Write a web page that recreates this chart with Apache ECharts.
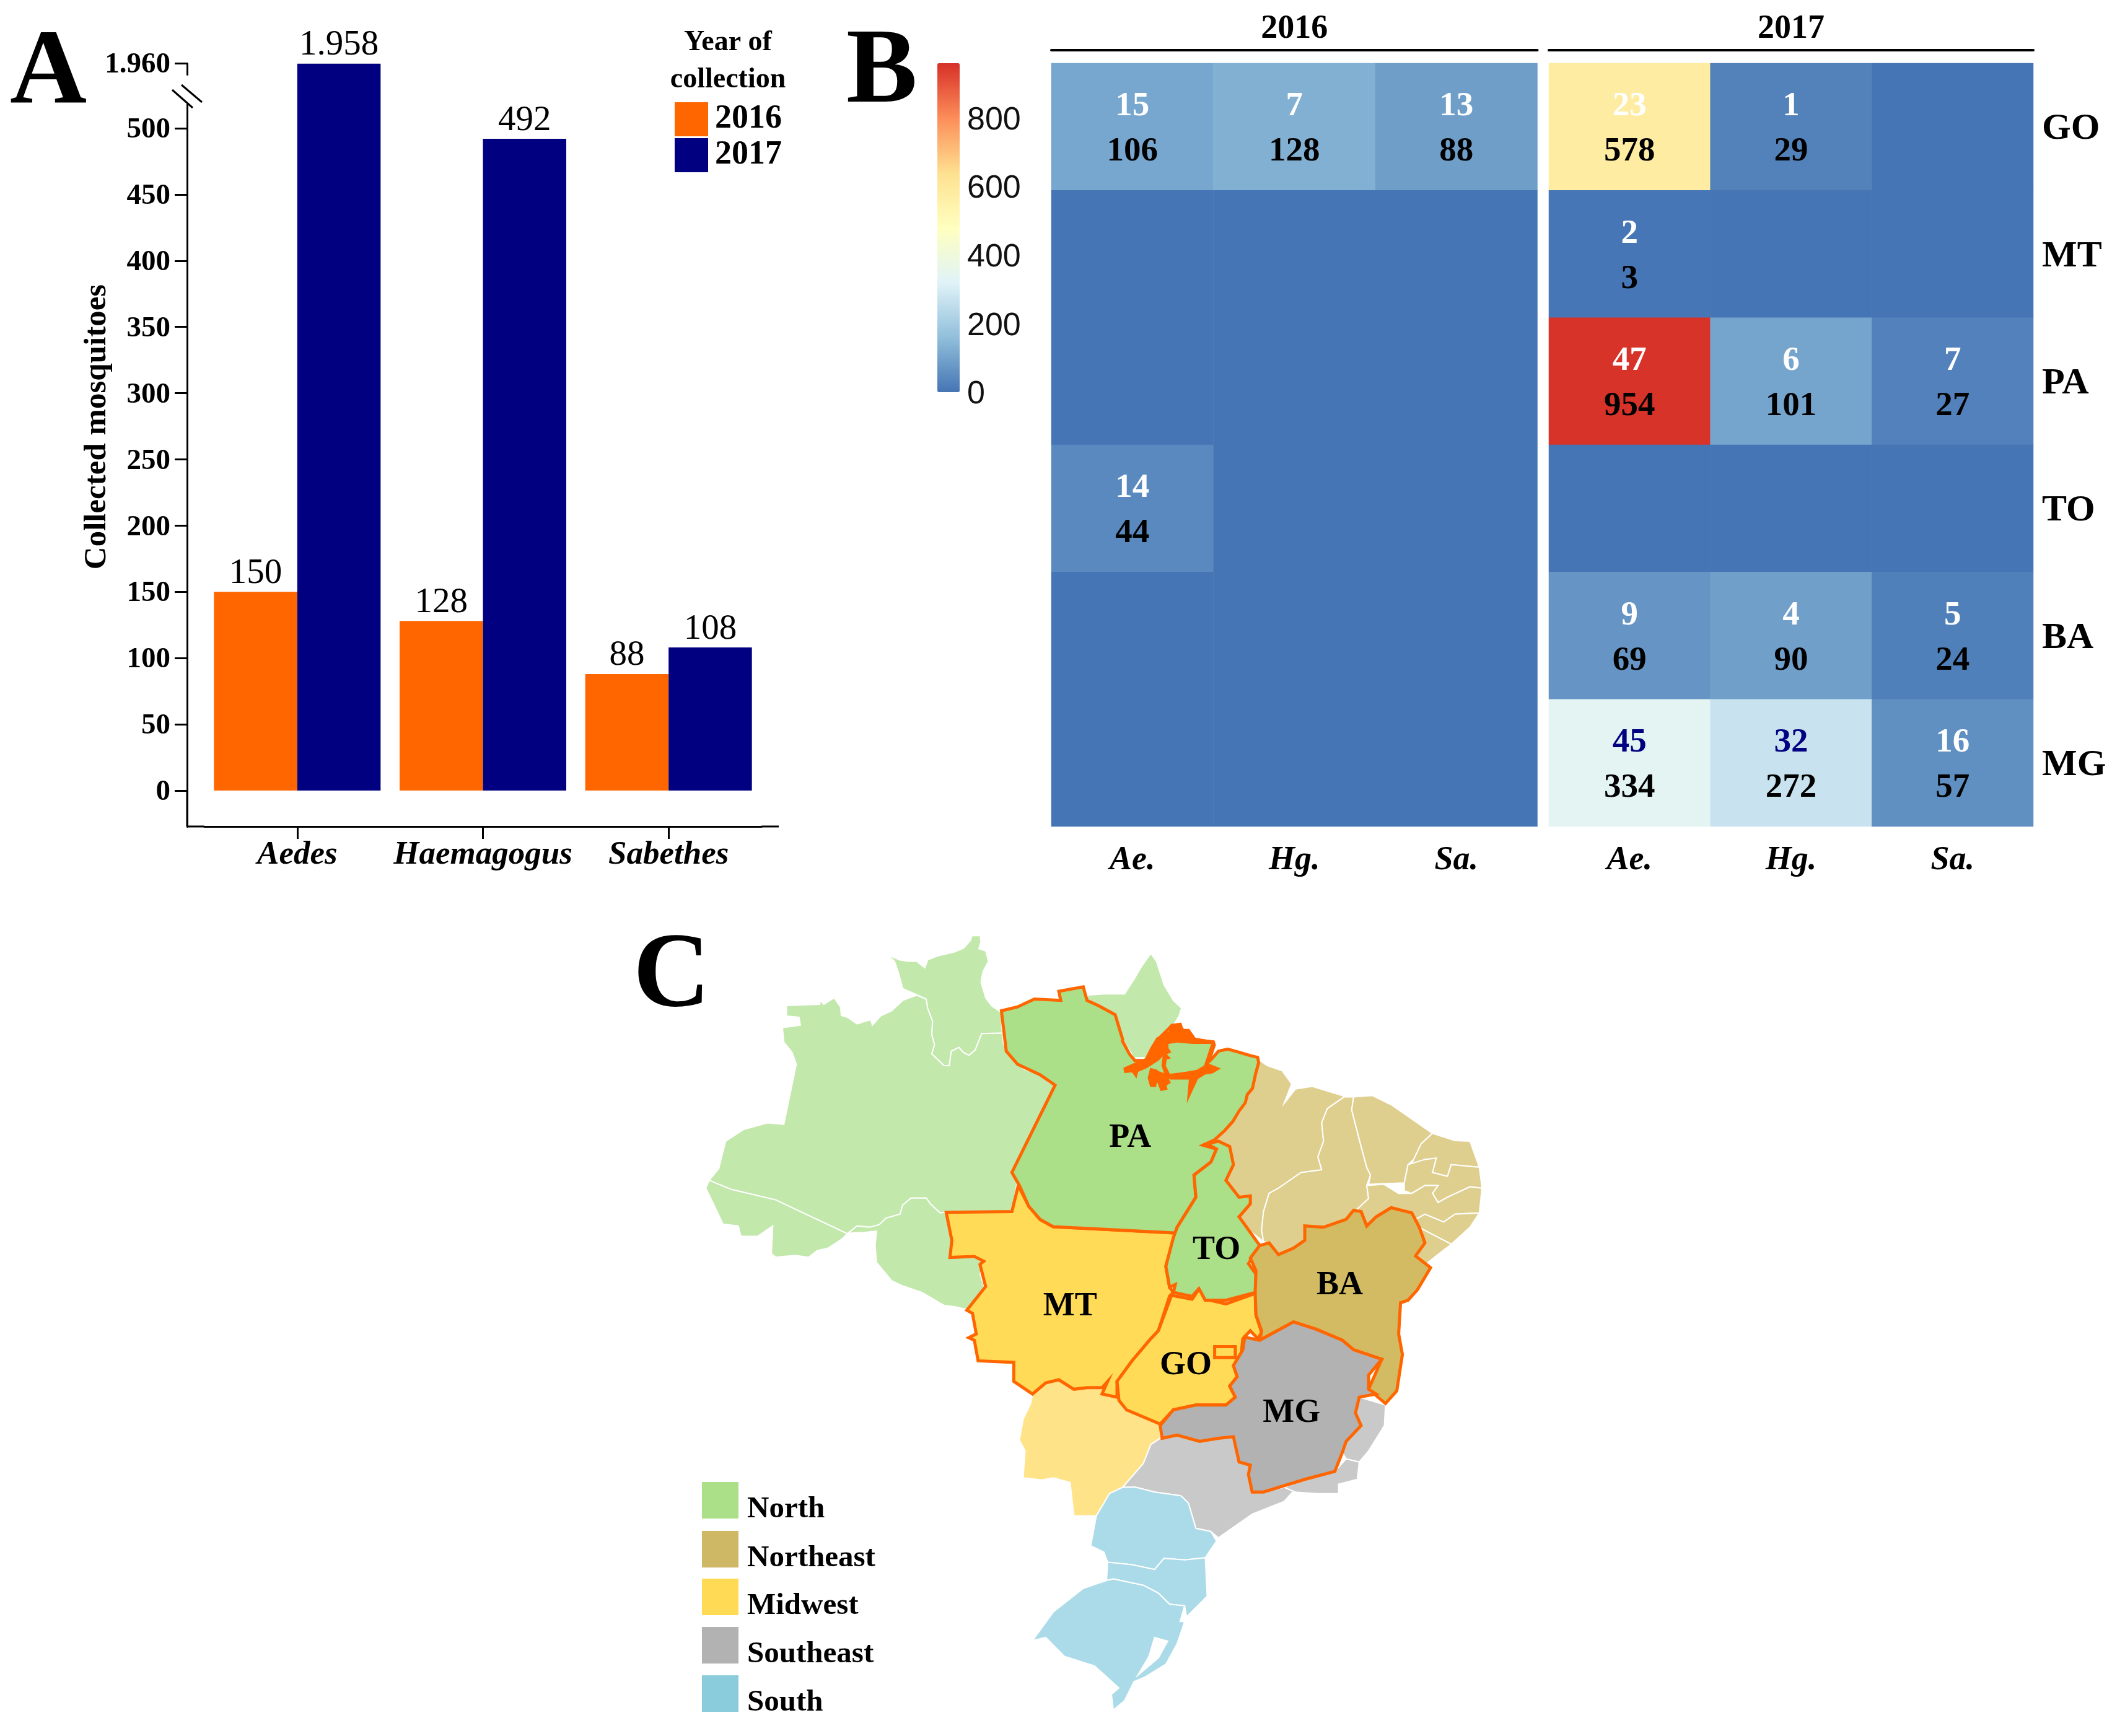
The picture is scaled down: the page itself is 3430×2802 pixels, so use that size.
<!DOCTYPE html>
<html><head><meta charset="utf-8">
<style>html,body{margin:0;padding:0;background:#fff}#c{width:3430px;height:2802px}</style>
<script src="https://cdn.jsdelivr.net/npm/echarts@6/dist/echarts.min.js"></script>
</head><body><div id="c"></div>
<script>
// ---------- Panel A data
const genera = ['Aedes','Haemagogus','Sabethes'];
const collected2016 = [150,128,88];
const collected2017 = [1958,492,108];
const yTicks = [0,50,100,150,200,250,300,350,400,450,500,1960];
// ---------- Panel B data
const states = ['GO','MT','PA','TO','BA','MG'];
const genusShort = ['Ae.','Hg.','Sa.'];
const mosq2016 = [[106,128,88],[0,0,0],[0,0,0],[44,0,0],[0,0,0],[0,0,0]];
const pools2016 = [[15,7,13],[0,0,0],[0,0,0],[14,0,0],[0,0,0],[0,0,0]];
const mosq2017 = [[578,29,0],[3,0,0],[954,101,27],[0,0,0],[69,90,24],[334,272,57]];
const pools2017 = [[23,1,0],[2,0,0],[47,6,7],[0,0,0],[9,4,5],[45,32,16]];
const navyPools = [45,32];
const heatColors = ['#4575b4','#91bfdb','#e0f3f8','#ffffbf','#fee090','#fc8d59','#d73027'];
const colorbarTicks = [0,200,400,600,800];
// ---------- Panel C legend
const regionNames = ['North','Northeast','Midwest','Southeast','South'];
const regionSwatch = ['#ACE088','#CFB865','#FFDB55','#B2B2B2','#8BCCDC'];

const SERIF = '"Liberation Serif"';
const SANS = '"Liberation Sans"';

// ---------- Outline tracing helpers (outline pixels -> map units)
const z3 = p => p.map(([x,y]) => [1100+x/2.24, -(1480+y/2.376)]);
const z4 = p => p.map(([x,y]) => [1500+x/1.65, -(1480+y/2.376)]);
const z5 = p => p.map(([x,y]) => [1500+x/1.65, -(2000+y/1.96)]);
const zd = p => p.map(([x,y]) => [1800+x/3, -(1630+y/3)]);

const shapes = {
 AM: z3([[380,340],[500,335],[500,320],[515,335],[552,310],[575,345],[578,378],[600,385],[635,410],[670,398],[685,395],[690,415],[720,380],[760,360],[800,320],[850,300],[885,315],[890,350],[908,400],[905,450],[915,490],[905,525],[950,570],[968,570],[975,515],[1003,500],[1020,520],[1040,530],[1062,510],[1085,447],[1160,445],[1165,490],[1195,545],[1240,585],[1290,600],[1330,635],[1350,645],[1195,975],[1215,1010],[1195,1130],[955,1132],[935,1135],[900,1100],[885,1078],[830,1078],[800,1105],[790,1140],[740,1155],[715,1180],[680,1190],[635,1185],[600,1215],[340,1085],[180,1045],[100,1010],[135,965],[145,920],[160,860],[225,815],[310,790],[370,795],[415,565],[400,520],[370,480],[365,425],[430,415],[425,385],[380,380]]),
 RR: z3([[745,145],[790,165],[820,170],[850,170],[880,195],[890,165],[925,150],[985,135],[1020,120],[1045,90],[1050,72],[1080,72],[1083,95],[1075,122],[1100,130],[1110,170],[1090,210],[1083,250],[1100,310],[1120,340],[1155,365],[1160,445],[1085,447],[1062,510],[1040,530],[1020,520],[1003,500],[975,515],[968,570],[950,570],[905,525],[915,490],[905,450],[908,400],[890,350],[885,315],[850,298],[800,275],[785,215],[770,170]]),
 AC: z3([[100,1010],[180,1045],[340,1085],[600,1215],[580,1235],[530,1270],[490,1280],[460,1305],[410,1298],[340,1305],[325,1290],[330,1185],[275,1225],[215,1225],[205,1185],[150,1178],[120,1110],[88,1040]]),
 RO: z3([[600,1215],[635,1185],[680,1190],[715,1180],[740,1155],[790,1140],[800,1105],[830,1078],[885,1078],[900,1100],[935,1135],[955,1132],[975,1150],[975,1300],[1060,1305],[1090,1325],[1080,1370],[1095,1420],[1060,1470],[1030,1505],[990,1495],[950,1490],[870,1440],[800,1415],[760,1395],[705,1325],[700,1260],[705,1205],[660,1210],[620,1212]]),
 AP: z4([[590,140],[605,170],[625,260],[650,320],[672,350],[665,380],[640,440],[580,540],[545,540],[515,470],[495,375],[450,340],[420,320],[420,300],[465,295],[520,295],[545,240],[565,190]]),
 MA: z4([[875,545],[900,570],[940,590],[965,640],[945,715],[975,660],[1020,650],[1100,685],[1105,690],[1060,735],[1045,790],[1050,860],[1035,920],[1045,970],[990,980],[930,1040],[905,1060],[890,1130],[885,1200],[890,1245],[850,1200],[825,1150],[855,1100],[855,1070],[825,1075],[790,1010],[810,950],[800,880],[770,860],[740,870],[790,820],[830,740],[850,680],[875,570]]),
 PI: z4([[1105,690],[1130,690],[1125,740],[1150,880],[1165,960],[1175,990],[1165,1030],[1170,1080],[1140,1120],[1125,1130],[1110,1160],[1050,1190],[1000,1185],[1000,1240],[970,1270],[930,1295],[905,1250],[890,1245],[885,1200],[890,1130],[905,1060],[930,1040],[990,980],[1045,970],[1035,920],[1050,860],[1045,790],[1060,735]]),
 CE: z4([[1130,690],[1180,685],[1230,720],[1300,790],[1340,830],[1310,870],[1290,930],[1275,950],[1265,1020],[1170,1025],[1175,990],[1165,960],[1150,880],[1125,740]]),
 RN: z4([[1340,830],[1400,858],[1440,860],[1465,960],[1390,950],[1380,995],[1340,980],[1350,925],[1320,930],[1280,960],[1290,930],[1310,870]]),
 PB: z4([[1465,960],[1472,1040],[1440,1035],[1380,1075],[1355,1095],[1340,1060],[1355,1030],[1320,1030],[1285,1060],[1265,1050],[1265,1020],[1275,950],[1320,930],[1350,925],[1340,980],[1380,995],[1390,950]]),
 PE: z4([[1472,1040],[1465,1135],[1400,1140],[1370,1170],[1320,1140],[1295,1160],[1260,1135],[1230,1115],[1190,1150],[1165,1185],[1150,1130],[1140,1120],[1170,1080],[1165,1030],[1210,1025],[1250,1060],[1285,1060],[1320,1030],[1355,1030],[1340,1060],[1355,1095],[1380,1075],[1440,1035]]),
 AL: z4([[1465,1135],[1440,1190],[1390,1255],[1310,1195],[1295,1160],[1320,1140],[1370,1170],[1400,1140]]),
 SE: z4([[1390,1255],[1350,1300],[1320,1335],[1295,1300],[1320,1250],[1310,1195]]),
 MS: z5([[275,490],[310,455],[345,445],[385,475],[420,470],[460,470],[475,450],[460,490],[500,500],[520,540],[615,585],[615,630],[590,650],[570,710],[515,785],[480,805],[445,875],[385,875],[375,770],[330,755],[300,762],[250,755],[255,670],[240,635],[250,570],[270,520]]),
 SP: z5([[615,630],[660,620],[720,640],[770,630],[810,625],[825,705],[855,715],[850,745],[860,800],[890,800],[945,785],[975,790],[945,830],[860,870],[800,920],[770,945],[750,925],[710,915],[690,835],[670,812],[600,800],[550,785],[515,785],[570,710],[590,650]]),
 RJ: z5([[1080,735],[1110,695],[1145,705],[1140,760],[1090,775],[1090,805],[1030,805],[975,800],[945,785],[1000,760]]),
 ES: z5([[1145,500],[1215,525],[1212,590],[1170,670],[1145,705],[1110,695],[1100,675],[1110,640],[1150,590],[1135,550]]),
 PR: z5([[515,785],[550,785],[600,800],[670,812],[690,835],[710,915],[750,925],[765,955],[745,990],[735,1008],[680,1015],[625,1010],[600,1045],[540,1030],[475,1022],[465,990],[430,970],[445,875],[480,805]]),
 SC: z5([[475,1022],[540,1030],[600,1045],[625,1010],[680,1015],[735,1008],[740,1130],[685,1195],[680,1160],[640,1155],[610,1120],[570,1095],[490,1075],[472,1080]]),
 RS: z5([[472,1080],[490,1075],[570,1095],[610,1120],[640,1155],[680,1160],[668,1210],[680,1210],[660,1280],[630,1345],[575,1385],[545,1400],[520,1460],[490,1490],[485,1440],[505,1420],[440,1350],[360,1320],[310,1260],[275,1270],[330,1180],[410,1105]]),
 lagoon: z5([[600,1260],[635,1272],[610,1325],[555,1380],[585,1320]]),
 MT: [...z4([[45,1133],[220,1130],[237,1030],[265,1110],[295,1160],[330,1188],[655,1212],[630,1340],[640,1420],[650,1440]]),
      ...z5([[640,180],[610,290],[590,315],[540,385],[500,450],[500,500],[460,490],[475,450],[460,470],[420,470],[385,475],[345,445],[310,455],[275,490],[225,450],[225,390],[130,385],[120,320],[105,312],[125,300],[115,235],[100,225],[150,150],[135,80],[145,70],[120,55],[55,58]]),
      ...z4([[60,1240]])],
 GO: z5([[645,178],[700,190],[720,155],[735,190],[790,205],[868,172],[870,240],[885,295],[875,315],[855,290],[835,315],[830,370],[810,400],[820,435],[800,465],[815,500],[790,525],[710,525],[650,540],[615,585],[525,540],[505,510],[500,450],[540,385],[590,315],[610,290]]),
 DF: z5([[760,340],[815,340],[815,375],[760,375]]),
 PA: [...z4([[192,360],[235,345],[280,315],[350,320],[345,285],[410,268],[420,320],[450,340],[495,375],[515,470]]),
      ...zd([[35,150],[70,215],[95,245],[150,245],[200,150],[270,80],[320,90],[380,140],[475,158],[445,260],[470,235],[500,200],[545,190],[600,205],[650,220],[690,230],[695,255],[680,310],[665,380],[640,410],[630,450],[600,490],[570,540],[530,585],[480,630],[425,655]]),
      ...z4([[765,890],[750,940],[705,990],[710,1075],[660,1190],[655,1212],[330,1188],[295,1160],[265,1110],[240,1030],[220,980],[335,645],[295,605],[235,565],[205,515]])],
 estuary: zd([[48,285],[100,262],[150,240],[175,190],[205,140],[265,110],[275,75],[315,70],[325,100],[355,100],[380,135],[380,145],[475,155],[480,170],[460,230],[445,265],[495,285],[470,300],[435,305],[395,330],[358,410],[365,330],[270,330],[250,320],[232,270],[240,205],[205,240],[150,275],[105,295],[100,315],[85,295],[50,298]]),
 claw: zd([[175,290],[195,295],[210,305],[240,315],[260,350],[245,360],[235,345],[245,380],[225,385],[210,345],[195,345],[192,365],[175,365],[165,330]]),
 Marajo: zd([[258,165],[300,158],[375,165],[465,165],[430,270],[395,290],[340,300],[265,310],[245,270],[250,240],[270,235],[250,215],[272,205],[258,185]]),
 TO: z4([[740,870],[770,860],[800,880],[810,950],[790,1010],[825,1075],[855,1070],[855,1100],[825,1150],[850,1200],[880,1260],[850,1330],[870,1370],[868,1440],[790,1470],[735,1470],[718,1425],[700,1455],[650,1440],[655,1410],[640,1420],[630,1340],[650,1230],[660,1190],[710,1075],[705,990],[750,940],[765,890]]),
 BA: [...z4([[880,1260],[905,1250],[930,1295],[970,1270],[1000,1240],[1000,1185],[1050,1190],[1110,1160],[1130,1125],[1150,1130],[1165,1185],[1190,1150],[1230,1115],[1285,1135],[1305,1190],[1320,1250],[1295,1300],[1335,1345],[1300,1430],[1275,1470],[1255,1480]]),
      ...z5([[1255,200],[1250,300],[1260,365],[1245,480],[1215,520],[1170,475],[1205,380],[1130,350],[1100,320],[1030,285],[970,262],[880,320],[885,290],[870,240],[868,170],[870,100],[855,60]])],
 MG: z5([[970,262],[1030,285],[1100,320],[1130,350],[1205,380],[1170,430],[1170,475],[1190,490],[1145,500],[1135,550],[1150,590],[1110,640],[1100,675],[1080,735],[1000,760],[890,800],[860,800],[850,745],[855,715],[825,705],[810,625],[770,630],[720,640],[660,620],[620,630],[615,590],[650,540],[710,525],[790,525],[815,500],[800,465],[820,435],[810,400],[835,350],[840,310],[880,320]])
};
const lightFill = {AM:'#C3E8AC',RR:'#C3E8AC',AC:'#C3E8AC',RO:'#C3E8AC',AP:'#C3E8AC',MA:'#DFCF8F',PI:'#DFCF8F',CE:'#DFCF8F',RN:'#DFCF8F',PB:'#DFCF8F',PE:'#DFCF8F',AL:'#DFCF8F',SE:'#DFCF8F',MS:'#FFE388',SP:'#C9C9C9',RJ:'#C9C9C9',ES:'#C9C9C9',PR:'#ABDBE8',SC:'#ABDBE8',RS:'#ABDBE8',lagoon:'#FFFFFF'};
const sampledFill = {MT:'#FFDB58',GO:'#FFDB58',DF:'#FFDB58',PA:'#ABDF88',estuary:'#FF6600',claw:'#FF6600',TO:'#ABDF88',BA:'#D3BB63',MG:'#B2B2B2'};
const stateCentres = {PA:z4([[535,838]])[0],TO:z4([[765,1268]])[0],MT:z5([[375,205]])[0],BA:z5([[1093,140]])[0],GO:z5([[683,392]])[0],MG:z5([[965,543]])[0]};

const geoJson = {type:'FeatureCollection',features:Object.keys(shapes).map(n=>({
  type:'Feature',properties:Object.assign({name:n},stateCentres[n]?{cp:stateCentres[n]}:{}),
  geometry:{type:'Polygon',coordinates:[[...shapes[n],shapes[n][0]]]}
}))};
echarts.registerMap('brazil',geoJson);

const mapData = Object.keys(shapes).map(n=>{
  if(n==='Marajo') return {name:n,itemStyle:{areaColor:'#ABDF88',borderWidth:0},label:{show:false}};
  const sampled = sampledFill[n]!==undefined;
  return {name:n,
    itemStyle:{areaColor:sampled?sampledFill[n]:lightFill[n],borderColor:sampled?'#FF6600':'#FFFFFF',borderWidth:sampled?5:2},
    label:{show:!!stateCentres[n]}};
});

function cells(mosq,pools){
  const out=[];
  mosq.forEach((row,r)=>row.forEach((v,c)=>out.push([c,r,v,pools[r][c]])));
  return out;
}
const cellStyle = c=>({color:c,fontFamily:SERIF,fontWeight:'bold',fontSize:55,lineHeight:73});
const cellLabel = {show:true,offset:[0,4],formatter:p=>{
    const v=p.data[2],n=p.data[3];
    if(!v&&!n) return '';
    return '{'+(navyPools.includes(n)?'n':'w')+'|'+n+'}\n{k|'+v+'}';
  },
  rich:{w:cellStyle('#fff'),n:cellStyle('#000080'),k:cellStyle('#000')}};
const heatGrid = [[1697,784.5],[2500,782]];
const bottomAxis = (g)=>({type:'category',gridIndex:g,data:genusShort,position:'bottom',
   axisLine:{show:false},axisTick:{show:false},splitLine:{show:false},
   axisLabel:{fontFamily:SERIF,fontWeight:'bold',fontStyle:'italic',fontSize:54,color:'#000',margin:28}});
const topAxis = (g,y)=>({type:'category',gridIndex:g,data:[y],position:'top',offset:21,
   axisLine:{show:true,lineStyle:{color:'#000',width:4}},axisTick:{show:false},splitLine:{show:false},
   axisLabel:{fontFamily:SERIF,fontWeight:'bold',fontSize:54,color:'#000',margin:7}});

const text=(t,x,y,font,align,rot)=>({type:'text',x,y,rotation:rot||0,silent:true,z:20,style:{text:t,font,fill:'#000',textAlign:align||'left',textVerticalAlign:'middle'}});
const line=(x1,y1,x2,y2,w)=>({type:'line',silent:true,z:21,shape:{x1,y1,x2,y2},style:{stroke:'#000',lineWidth:w||3}});
const BOLD=s=>'bold '+s+'px '+SERIF;
const valueText=v=>v>=1000?(v/1000).toFixed(3):String(v);
// labels set slightly below their tick, as in the reference
const lowered=(style,shift)=>({formatter:v=>'{a|'+valueText(v)+'}',rich:{a:Object.assign({padding:[shift*2,0,0,0]},style)}});

const chart = echarts.init(document.getElementById('c'),null,{renderer:'canvas'});
chart.setOption({
 animation:false,backgroundColor:'#fff',
 grid:[
  {left:330,top:102,width:899,height:1232},
  {left:heatGrid[0][0],top:102,width:heatGrid[0][1],height:1232},
  {left:heatGrid[1][0],top:102,width:heatGrid[1][1],height:1232},
  {left:1513,top:102,width:36,height:531}
 ],
 xAxis:[
  {type:'category',gridIndex:0,data:genera,position:'bottom',
   axisLine:{show:true,onZero:false,lineStyle:{color:'#000',width:3}},
   axisTick:{show:true,alignWithLabel:true,length:20,lineStyle:{color:'#000',width:3}},
   axisLabel:{interval:0,fontFamily:SERIF,fontWeight:'bold',fontStyle:'italic',fontSize:53,color:'#000',margin:20},splitLine:{show:false}},
  bottomAxis(1),topAxis(1,'2016'),bottomAxis(2),topAxis(2,'2017'),
  {type:'value',gridIndex:3,show:false,min:0,max:1}
 ],
 yAxis:[
  {type:'value',gridIndex:0,min:-27.1,max:1960,offset:28,position:'left',
   breaks:[{start:525,end:1950,gap:'2.72%'},{start:1958.2,end:1959.8,gap:0}],
   breakArea:{show:false},
   axisLine:{show:true,lineStyle:{color:'#000',width:3}},
   axisTick:{show:true,length:20,customValues:yTicks,lineStyle:{color:'#000',width:3}},
   axisLabel:Object.assign({customValues:yTicks,margin:27},lowered({fontFamily:SERIF,fontWeight:'bold',fontSize:47,color:'#000'},3)),
   splitLine:{show:false}},
  {type:'category',gridIndex:1,data:states,inverse:true,show:false},
  {type:'category',gridIndex:2,data:states,inverse:true,position:'right',
   axisLine:{show:false},axisTick:{show:false},splitLine:{show:false},
   axisLabel:Object.assign({margin:14},lowered({fontFamily:SERIF,fontWeight:'bold',fontSize:60,color:'#000'},4))},
  {type:'value',gridIndex:3,min:0,max:960,position:'right',
   axisLine:{show:false},axisTick:{show:false},splitLine:{show:false},
   axisLabel:Object.assign({customValues:colorbarTicks,margin:12},lowered({fontFamily:SANS,fontSize:52,color:'#111'},4))}
 ],
 visualMap:{type:'continuous',min:0,max:960,seriesIndex:[2,3],dimension:2,calculable:false,hoverLink:false,
   left:1513,top:102,itemWidth:36,itemHeight:531,padding:0,text:null,borderWidth:0,
   inRange:{color:heatColors}},
 legend:{show:true,orient:'vertical',left:1089,top:165,itemWidth:54,itemHeight:55,itemGap:3,padding:0,
   data:['2016','2017'],textStyle:{fontFamily:SERIF,fontWeight:'bold',fontSize:54,color:'#000',padding:[0,0,0,6]},
   icon:'rect',selectedMode:false},
 series:[
  {name:'2016',type:'bar',xAxisIndex:0,yAxisIndex:0,data:collected2016,barWidth:134.5,barGap:0,
   itemStyle:{color:'#FF6600'},
   label:{show:true,position:'top',distance:1,fontFamily:SERIF,fontSize:57,color:'#000',formatter:p=>valueText(p.value)}},
  {name:'2017',type:'bar',xAxisIndex:0,yAxisIndex:0,data:collected2017,barWidth:134.5,barGap:0,
   itemStyle:{color:'#000080'},
   label:{show:true,position:'top',distance:1,fontFamily:SERIF,fontSize:57,color:'#000',formatter:p=>valueText(p.value)}},
  {type:'heatmap',xAxisIndex:1,yAxisIndex:1,data:cells(mosq2016,pools2016),label:cellLabel,silent:true},
  {type:'heatmap',xAxisIndex:3,yAxisIndex:2,data:cells(mosq2017,pools2017),label:cellLabel,silent:true},
  {type:'map',map:'brazil',left:1000,top:1500,width:1500,height:1300,aspectScale:1,
   boundingCoords:[[1000,-1500],[2500,-2800]],roam:false,silent:true,selectedMode:false,
   data:mapData,
   label:{show:true,offset:[0,4],fontFamily:SERIF,fontWeight:'bold',fontSize:54,color:'#000'},
   emphasis:{disabled:true}}
 ],
 graphic:{elements:[
  text('A',16,122,BOLD(172)),
  text('B',1366,120,BOLD(172)),
  text('C',1022,1579,BOLD(172)),
  text('Collected mosquitoes',157,689,BOLD(51),'center',Math.PI/2),
  text('Year of',1175,69,BOLD(46),'center'),
  text('collection',1175,129,BOLD(46),'center'),
  line(302,1334,330,1334),line(1229,1334,1257,1334),
  line(302,1276,302,1334),
  {type:'rect',silent:true,z:19,shape:{x:297,y:138,width:10,height:30},style:{fill:'#fff'}},
  line(293,137,326,165),line(278,145,311,174),
  ...regionNames.flatMap((n,i)=>{
    const y=[2392,2471,2548,2626,2704][i];
    return [{type:'rect',silent:true,z:20,shape:{x:1133,y,width:59,height:59},style:{fill:regionSwatch[i]}},
            text(n,1206,y+44,BOLD(49))];
  })
 ]}
});
</script>
</body></html>
